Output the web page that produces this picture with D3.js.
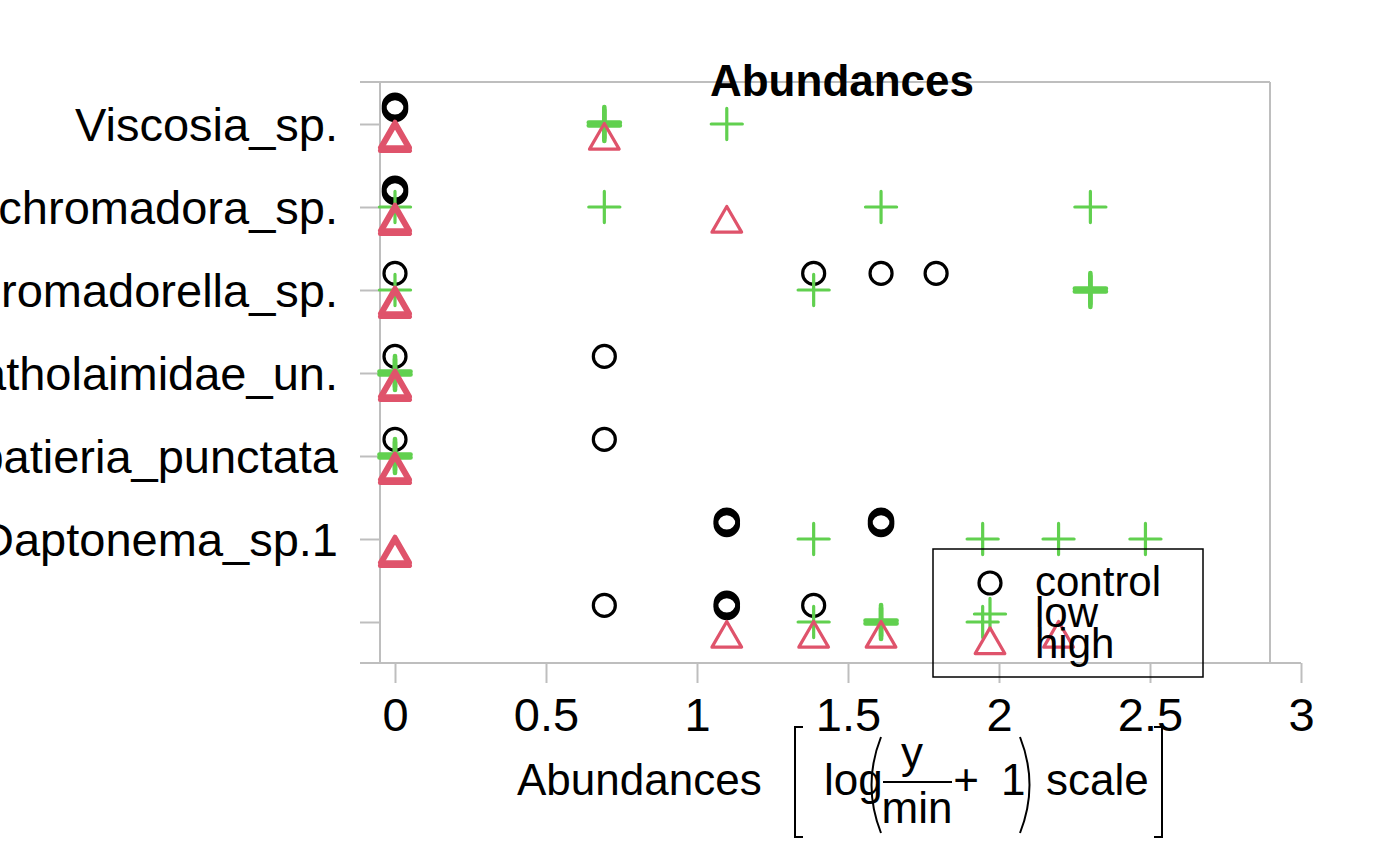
<!DOCTYPE html>
<html><head><meta charset="utf-8">
<script src="https://cdn.jsdelivr.net/npm/d3@7"></script>
<style>
body{margin:0;background:#fff}
svg{display:block}
text{font-family:'Liberation Sans',Arial,Helvetica,sans-serif;fill:#000}
</style>
</head><body>
<svg id="c" width="1400" height="866"></svg>
<script>
// ---- data (top row first) ----
const speciesLabels = ["Viscosia_sp.","Dichromadora_sp.","Prochromadorella_sp.","Cyatholaimidae_un.","Sabatieria_punctata","Daptonema_sp.1",""];
const groupNames = ["control","low","high"];
// raw abundances per species row (repeated values = overlapping points)
const controlCounts = [[0,0],[0,0],[0,3,4,5],[0,1],[0,1],[2,2,4,4],[1,2,2,3]];
const lowCounts     = [[1,1,2],[0,1,4,9],[0,3,9,9],[0,0],[0,0],[3,6,8,11],[3,4,4,6]];
const highCounts    = [[0,0,1],[0,0,2],[0,0],[0,0],[0,0],[0,0],[2,3,4,8]];
const xTicks = [0,0.5,1,1.5,2,2.5,3];
const minAbund = 1;
const groupColors = ["#000000","#61D04F","#DF536B"];
const groupShapes = ["circle","plus","triangle"];

const svg = d3.select("#c");
const AXC = "#BEBEBE";
const FS = 47;

const x = d3.scaleLinear().domain([0,3]).range([395,1301]);
const y = d3.scalePoint().domain(d3.range(speciesLabels.length)).range([124,622]);
const step = y.step();
const groupOffset = [-0.2*step, 0, 0.2*step];
const tr = v => Math.log(v/minAbund + 1);

// frame lines
const frame = svg.append("g").attr("stroke",AXC).attr("stroke-width",2).attr("fill","none");
frame.append("line").attr("x1",360).attr("x2",1270).attr("y1",82).attr("y2",82);
frame.append("line").attr("x1",1270).attr("x2",1270).attr("y1",82).attr("y2",663);
frame.append("line").attr("x1",380).attr("x2",380).attr("y1",82).attr("y2",663);
frame.append("line").attr("x1",360).attr("x2",1301).attr("y1",663).attr("y2",663);

// x axis
const gx = svg.append("g").attr("transform","translate(0,663)")
  .call(d3.axisBottom(x).tickValues(xTicks).tickSize(20).tickPadding(15).tickFormat(d3.format("")));
gx.select(".domain").remove();
gx.selectAll(".tick line").attr("stroke",AXC).attr("stroke-width",2);
gx.selectAll(".tick text").attr("font-size",FS).attr("fill","#000");

// y axis
const gy = svg.append("g").attr("transform","translate(380,0)")
  .call(d3.axisLeft(y).tickSize(20).tickPadding(22).tickFormat(i => speciesLabels[i]));
gy.select(".domain").remove();
gy.selectAll(".tick line").attr("stroke",AXC).attr("stroke-width",2);
gy.selectAll(".tick text").attr("font-size",FS).attr("fill","#000").attr("dy","0.36em");

// symbols
const R = 11;
function symbol(g, shape, cx, cy, color, sw){
  sw = sw || 3.2;
  if(shape==="circle"){
    g.append("circle").attr("cx",cx).attr("cy",cy).attr("r",R)
      .attr("fill","none").attr("stroke",color).attr("stroke-width",sw);
  } else if(shape==="plus"){
    const h = 1.414*R;
    g.append("path").attr("d",`M${cx-h},${cy}H${cx+h}M${cx},${cy-h}V${cy+h}`)
      .attr("fill","none").attr("stroke",color).attr("stroke-width",sw).attr("stroke-linecap","round");
  } else {
    const r = 1.5551*R, xc = 1.3468*R, yc = 0.7776*R;
    g.append("path").attr("d",`M${cx},${cy-r}L${cx+xc},${cy+yc}L${cx-xc},${cy+yc}Z`)
      .attr("fill","none").attr("stroke",color).attr("stroke-width",sw).attr("stroke-linejoin","round");
  }
}

const series = [controlCounts, lowCounts, highCounts];
const marks = svg.append("g");
series.forEach((rows, gi) => {
  rows.forEach((vals, ri) => {
    const grouped = d3.groups(vals, v => v);
    grouped.forEach(([v, arr]) => {
      const n = arr.length;
      arr.forEach((_, k) => {
        const dy = n > 1 ? (k - (n-1)/2) * 3 : 0;
        symbol(marks, groupShapes[gi], x(tr(v)), y(ri) + groupOffset[gi] + dy, groupColors[gi], n > 1 ? 4.6 : 3.2);
      });
    });
  });
});

// title
svg.append("text").attr("x",842).attr("y",96).attr("text-anchor","middle")
  .attr("font-size",44).attr("font-weight","bold").text("Abundances");

// legend
const lg = svg.append("g");
lg.append("rect").attr("x",933).attr("y",549).attr("width",270).attr("height",128)
  .attr("fill","none").attr("stroke","#000").attr("stroke-width",1.5);
const legY = [583,614,645];
groupNames.forEach((nm,i) => {
  symbol(lg, groupShapes[i], 990, legY[i], groupColors[i]);
  lg.append("text").attr("x",1035).attr("y",legY[i]+12.5).attr("font-size",42).text(nm);
});

// x axis label: Abundances [ log( y/min + 1 ) scale ]
const LF = 44, B = 795;
const xl = svg.append("g");
xl.append("text").attr("x",517).attr("y",B).attr("font-size",LF).text("Abundances");
const br = xl.append("g").attr("stroke","#000").attr("stroke-width",2).attr("fill","none");
br.append("path").attr("d","M803,727H795V837H803");
br.append("path").attr("d","M1154,727H1162V837H1154");
xl.append("text").attr("x",824).attr("y",B).attr("font-size",LF).text("log");
br.append("path").attr("d","M881,737Q862,785 881,833");
br.append("path").attr("d","M1020,737Q1039,785 1020,833");
xl.append("text").attr("x",912).attr("y",768).attr("text-anchor","middle").attr("font-size",LF).text("y");
br.append("line").attr("x1",883).attr("x2",952).attr("y1",782).attr("y2",782);
xl.append("text").attr("x",917).attr("y",823).attr("text-anchor","middle").attr("font-size",LF).text("min");
xl.append("text").attr("x",966).attr("y",B).attr("text-anchor","middle").attr("font-size",LF).text("+");
xl.append("text").attr("x",1001).attr("y",B).attr("font-size",LF).text("1");
xl.append("text").attr("x",1046).attr("y",B).attr("font-size",LF).text("scale");
</script>
</body></html>
